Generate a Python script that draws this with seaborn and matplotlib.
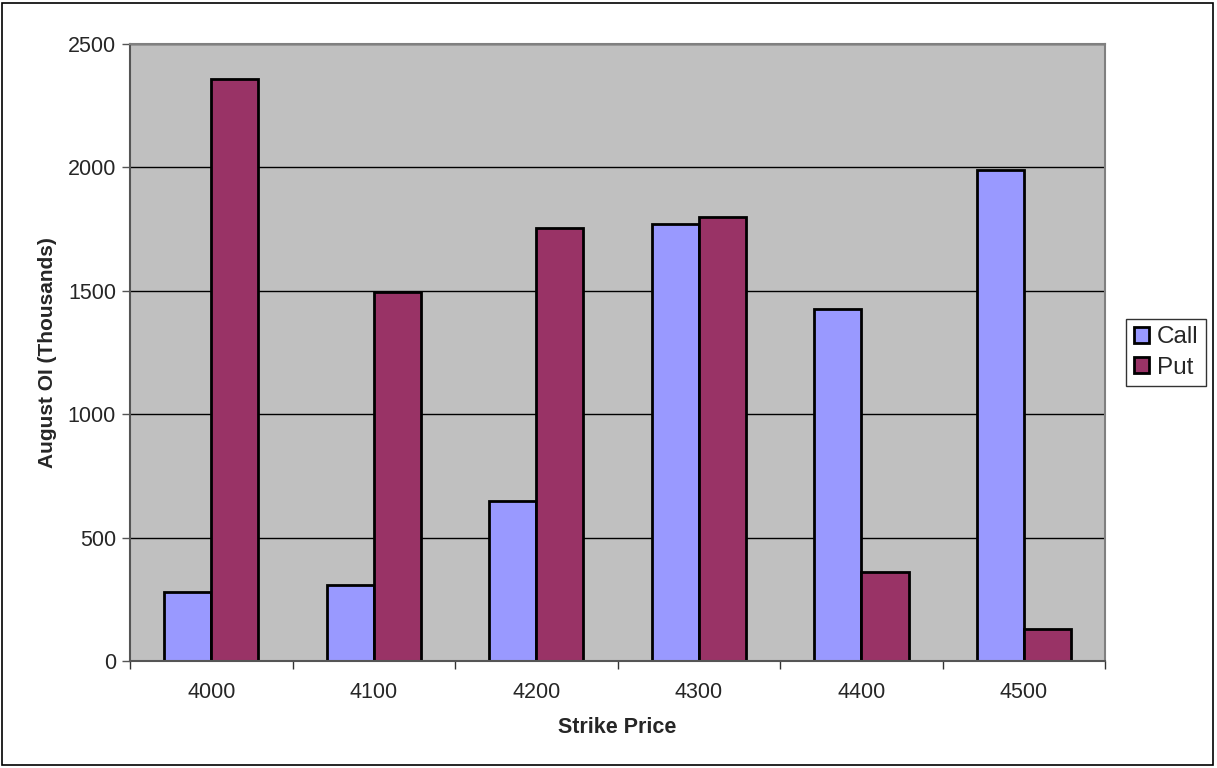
import matplotlib
matplotlib.use("Agg")
import matplotlib.pyplot as plt
import seaborn as sns
import pandas as pd
from matplotlib.patches import Rectangle
from matplotlib.ticker import FixedLocator, NullFormatter

strikes = ["4000", "4100", "4200", "4300", "4400", "4500"]
call_oi = [280, 308, 648, 1770, 1426, 1989]
put_oi = [2360, 1495, 1754, 1798, 361, 130]
series = ["Call", "Put"]
colors = {"Call": "#9999FF", "Put": "#993366"}

df = pd.DataFrame({
    "Strike": strikes * 2,
    "OI": call_oi + put_oi,
    "Type": ["Call"] * len(strikes) + ["Put"] * len(strikes),
})

sns.set_style("white")
plt.rcParams["font.family"] = ["Liberation Sans", "DejaVu Sans"]

fig = plt.figure(figsize=(12.17, 7.68), dpi=100)
ax = fig.add_axes([0.1068, 0.1393, 0.8014, 0.8034])
ax.set_facecolor("#C0C0C0")

sns.barplot(data=df, x="Strike", y="OI", hue="Type", hue_order=series,
            order=strikes, palette=colors, width=0.58, gap=0,
            edgecolor="black", linewidth=2, saturation=1, ax=ax)

ax.set_ylim(0, 2500)
ax.set_xlim(-0.5, len(strikes) - 0.5)
ax.set_yticks([0, 500, 1000, 1500, 2000, 2500])
ax.yaxis.grid(True, color="black", linewidth=1)
ax.set_axisbelow(True)

for side in ["top", "right"]:
    ax.spines[side].set_color("#808080")
    ax.spines[side].set_linewidth(1.5)
for side in ["left", "bottom"]:
    ax.spines[side].set_color("#555555")
    ax.spines[side].set_linewidth(1.5)

ax.tick_params(axis="y", which="major", direction="out", length=6, width=1,
               color="#555555", labelsize=15.5, pad=4, left=True)
ax.tick_params(axis="x", which="major", length=0, labelsize=15.5, pad=15)
ax.xaxis.set_minor_locator(FixedLocator([i + 0.5 for i in range(-1, len(strikes))]))
ax.xaxis.set_minor_formatter(NullFormatter())
ax.tick_params(axis="x", which="minor", direction="out", length=6, width=1,
               color="#333333", bottom=True)

ax.set_xlabel("Strike Price", fontsize=15.5, fontweight="bold", labelpad=10)
ax.set_ylabel("August OI (Thousands)", fontsize=15, fontweight="bold", labelpad=8)

handles, labels = ax.get_legend_handles_labels()
leg = ax.legend(handles, labels, loc="center left", bbox_to_anchor=(1.0215, 0.5),
                fontsize=17.5, frameon=True, fancybox=False, edgecolor="black",
                handlelength=0.65, handleheight=0.65, handletextpad=0.3,
                borderpad=0.3, labelspacing=0.35, borderaxespad=0)
leg.get_frame().set_linewidth(1)
leg.get_frame().set_facecolor("white")

fig.patches.append(Rectangle((0.002, 0.004), 0.995, 0.992, transform=fig.transFigure,
                             fill=False, edgecolor="black", linewidth=1.2))

fig.savefig("out.png", dpi=100)
